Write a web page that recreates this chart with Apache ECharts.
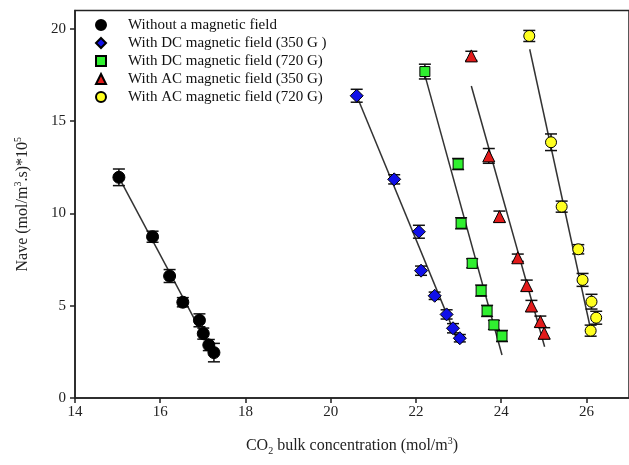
<!DOCTYPE html>
<html>
<head>
<meta charset="utf-8">
<script src="https://cdn.jsdelivr.net/npm/echarts@6/dist/echarts.min.js"></script>
<style>
html,body{margin:0;padding:0;background:#fff;}
#chart{width:629px;height:465px;}
</style>
</head>
<body>
<div id="chart"></div>
<script>
// ---- Data ----
const seriesNames = [
  'Without a magnetic field',
  'With DC magnetic field (350 G )',
  'With DC magnetic field (720 G)',
  'With AC magnetic field (350 G)',
  'With AC magnetic field (720 G)'
];
const noFieldX = [15.03, 15.82, 16.22, 16.53, 16.92, 17.01, 17.14, 17.26];
const noFieldY = [11.96, 8.74, 6.61, 5.19, 4.21, 3.49, 2.87, 2.46];
const noFieldErr = [0.45, 0.3, 0.35, 0.25, 0.35, 0.3, 0.3, 0.5];

const dc350X = [20.61, 21.49, 22.07, 22.12, 22.44, 22.72, 22.87, 23.03];
const dc350Y = [16.38, 11.85, 9.01, 6.90, 5.54, 4.53, 3.78, 3.24];
const dc350Err = [0.35, 0.25, 0.35, 0.25, 0.2, 0.25, 0.25, 0.2];

const dc720X = [22.21, 22.99, 23.06, 23.32, 23.53, 23.67, 23.83, 24.02];
const dc720Y = [17.69, 12.68, 9.47, 7.30, 5.82, 4.72, 3.96, 3.36];
const dc720Err = [0.4, 0.3, 0.3, 0.25, 0.3, 0.3, 0.25, 0.3];

const ac350X = [23.30, 23.71, 23.96, 24.39, 24.60, 24.71, 24.92, 25.01];
const ac350Y = [18.54, 13.12, 9.83, 7.60, 6.09, 4.99, 4.14, 3.51];
const ac350Err = [0.25, 0.4, 0.3, 0.2, 0.3, 0.3, 0.3, 0.3];

const ac720X = [24.66, 25.17, 25.42, 25.81, 25.91, 26.12, 26.23, 26.10];
const ac720Y = [19.62, 13.86, 10.37, 8.06, 6.40, 5.22, 4.35, 3.65];
const ac720Err = [0.3, 0.45, 0.3, 0.25, 0.35, 0.4, 0.35, 0.3];

// fitted trend line end points [x, y]
const noFieldFit = [[15.03, 11.96], [17.26, 2.3]];
const dc350Fit = [[20.61, 16.38], [23.0, 3.0]];
const dc720Fit = [[22.21, 17.5], [24.02, 2.33]];
const ac350Fit = [[23.30, 16.91], [25.02, 2.78]];
const ac720Fit = [[24.67, 18.90], [26.12, 3.51]];

const xTicks = [14, 16, 18, 20, 22, 24, 26];
const yTicks = [0, 5, 10, 15, 20];

// ---- Build options ----
const FONT = 'Liberation Serif';
const groups = [
  {name: seriesNames[0], x: noFieldX, y: noFieldY, e: noFieldErr, fit: noFieldFit, symbol: 'circle', size: 12, color: '#000000'},
  {name: seriesNames[1], x: dc350X, y: dc350Y, e: dc350Err, fit: dc350Fit, symbol: 'diamond', size: 13, color: '#1010e8'},
  {name: seriesNames[2], x: dc720X, y: dc720Y, e: dc720Err, fit: dc720Fit, symbol: 'rect', size: 10, color: '#30f030'},
  {name: seriesNames[3], x: ac350X, y: ac350Y, e: ac350Err, fit: ac350Fit, symbol: 'triangle', size: 12, color: '#e21b1b'},
  {name: seriesNames[4], x: ac720X, y: ac720Y, e: ac720Err, fit: ac720Fit, symbol: 'circle', size: 11, color: '#ffff20'}
];

function errRender(params, api) {
  const x = api.value(0), lo = api.value(1), hi = api.value(2);
  const p1 = api.coord([x, hi]);
  const p2 = api.coord([x, lo]);
  const w = 6;
  const st = {stroke: '#111', lineWidth: 1.5};
  return {type: 'group', children: [
    {type: 'line', shape: {x1: p1[0], y1: p1[1], x2: p2[0], y2: p2[1]}, style: st},
    {type: 'line', shape: {x1: p1[0] - w, y1: p1[1], x2: p1[0] + w, y2: p1[1]}, style: st},
    {type: 'line', shape: {x1: p2[0] - w, y1: p2[1], x2: p2[0] + w, y2: p2[1]}, style: st}
  ]};
}

const series = [];
groups.forEach(g => {
  series.push({
    type: 'line', data: g.fit, showSymbol: false, silent: true,
    lineStyle: {color: '#333', width: 1.5}, z: 1, animation: false
  });
  series.push({
    type: 'custom', renderItem: errRender, z: 2, silent: true, animation: false,
    encode: {x: 0, y: [1, 2]},
    data: g.x.map((v, i) => [v, g.y[i] - g.e[i], g.y[i] + g.e[i]])
  });
  series.push({
    name: g.name, type: 'scatter', symbol: g.symbol, symbolSize: g.size, z: 3,
    itemStyle: {color: g.color, borderColor: '#000', borderWidth: 1, opacity: 1},
    data: g.x.map((v, i) => [v, g.y[i]]), animation: false
  });
});

const chart = echarts.init(document.getElementById('chart'));
chart.setOption({
  backgroundColor: '#fff',
  animation: false,
  grid: {left: 75, top: 10.5, width: 555.75, height: 387.5, show: true, borderColor: '#222', borderWidth: 1.5, backgroundColor: 'transparent'},
  legend: {
    data: seriesNames, orient: 'vertical', left: 95, top: 16, padding: 0,
    itemWidth: 10, itemHeight: 10, itemGap: 0,
    textStyle: {fontFamily: FONT, fontSize: 15, color: '#111', lineHeight: 18, padding: [0, 0, 0, 17]}
  },
  xAxis: {
    type: 'value', min: 14, max: 27, interval: 2,
    splitLine: {show: false},
    axisLine: {lineStyle: {color: '#222', width: 1.5}},
    axisTick: {show: true, length: 5, lineStyle: {color: '#222', width: 1.5}, customValues: xTicks},
    axisLabel: {fontFamily: FONT, fontSize: 15, color: '#222', margin: 7, customValues: xTicks},
    name: '{t|CO}{sub|2}{t| bulk concentration (mol/m}{sup|3}{t|)}',
    nameLocation: 'middle', nameGap: 38,
    nameTextStyle: {rich: {
      t: {fontFamily: FONT, fontSize: 16, color: '#222', lineHeight: 20},
      sub: {fontFamily: FONT, fontSize: 10, color: '#222', verticalAlign: 'bottom', lineHeight: 20, padding: [8, 0, 0, 0]},
      sup: {fontFamily: FONT, fontSize: 10, color: '#222', verticalAlign: 'top', lineHeight: 20, padding: [0, 0, 6, 0]}
    }}
  },
  yAxis: {
    type: 'value', min: 0, max: 21, interval: 5,
    splitLine: {show: false},
    axisLine: {lineStyle: {color: '#222', width: 1.5}},
    axisTick: {show: true, length: 5, lineStyle: {color: '#222', width: 1.5}, customValues: yTicks},
    axisLabel: {fontFamily: FONT, fontSize: 15, color: '#222', margin: 9, customValues: yTicks},
    name: '{t|Nave (mol/m}{sup|3}{t|.s)*10}{sup|5}',
    nameLocation: 'middle', nameGap: 42, nameRotate: 90,
    nameTextStyle: {rich: {
      t: {fontFamily: FONT, fontSize: 16, color: '#222', lineHeight: 20},
      sup: {fontFamily: FONT, fontSize: 10, color: '#222', verticalAlign: 'top', lineHeight: 20, padding: [0, 0, 6, 0]}
    }}
  },
  series: series
});
</script>
</body>
</html>
